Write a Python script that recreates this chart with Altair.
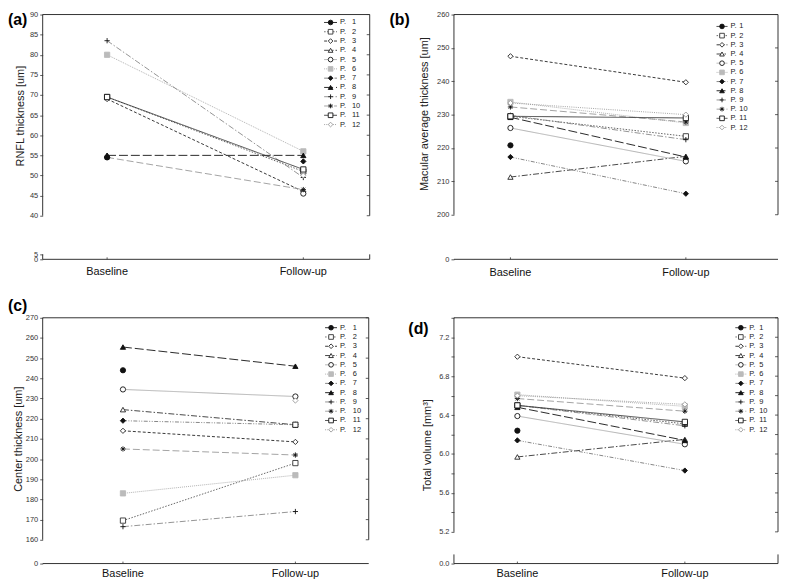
import json
import altair as alt
import pandas as pd

# ---------------- data ----------------
PATIENTS = ["1", "2", "3", "4", "5", "6", "7", "8", "9", "10", "11", "12"]
X_LABELS = ["Baseline", "Follow-up"]
TIME_CODES = [0, 1]

RNFL_BASE = [54.5, 69.5, 69.0, 55.0, None, 80.0, None, 55.0, 83.5, 54.5, 69.5, None]
RNFL_FU = [None, 51.0, 46.0, None, 45.5, 56.0, 53.5, 55.0, 49.5, 46.5, 51.5, 50.0]

MAC_BASE = [220.8, 229.5, 247.5, 211.3, 226.0, 233.8, 217.3, 229.2, 229.8, 232.3, 229.5, 233.5]
MAC_FU = [None, 223.5, 239.7, 217.5, 216.0, 227.5, 206.3, 217.3, 222.5, 227.8, 229.0, 230.0]

CEN_BASE = [244.0, 169.5, 214.0, 224.5, 234.5, 183.0, 219.0, 255.5, 166.5, 205.0, None, None]
CEN_FU = [None, 198.0, 208.5, 217.0, 231.0, 192.0, 217.0, 246.0, 174.0, 202.0, 217.0, 229.0]

VOL_BASE = [6.24, 6.50, 7.00, 5.97, 6.39, 6.61, 6.14, 6.48, 6.50, 6.57, 6.50, 6.60]
VOL_FU = [None, 6.31, 6.78, 6.15, 6.10, 6.49, 5.83, 6.14, 6.29, 6.44, 6.33, 6.51]

RNFL_TICKS = [0, 5, 40, 45, 50, 55, 60, 65, 70, 75, 80, 85, 90]
MAC_TICKS = [0, 200, 210, 220, 230, 240, 250, 260]
CEN_TICKS = [0, 160, 170, 180, 190, 200, 210, 220, 230, 240, 250, 260, 270]
VOL_TICKS = [0.0, 5.2, 5.4, 5.6, 5.8, 6.0, 6.2, 6.4, 6.6, 6.8, 7.0, 7.2, 7.4]
VOL_LABELS = [0.0, 5.2, 5.6, 6.0, 6.4, 6.8, 7.2]

# ---------------- styles ----------------
FONT = "Liberation Sans"
FRAME = "#333333"
LINE_COLORS = ["#111111", "#555555", "#222222", "#333333", "#aaaaaa", "#aaaaaa",
               "#777777", "#111111", "#888888", "#999999", "#333333", "#999999"]
DASHES = [[1, 0], [1.5, 1.5], [3, 2], [6, 2, 1.5, 2], [1, 0], [1, 1],
          [4, 1.5, 1, 1.5, 1, 1.5], [9, 3], [6, 2, 1.5, 2], [7, 3], [1, 0], [1, 1.2]]
PLUS = "M-1,0L1,0M0,-1L0,1"
STAR = "M-1,0L1,0M0,-1L0,1M-0.7,-0.7L0.7,0.7M-0.7,0.7L0.7,-0.7"
SHAPES = ["circle", "square", "diamond", "triangle-up", "circle", "square",
          "diamond", "triangle-up", PLUS, STAR, "square", "diamond"]
FILLS = ["#111111", "#ffffff", "#ffffff", "#ffffff", "#ffffff", "#bbbbbb",
         "#111111", "#111111", "#111111", "#111111", "#ffffff", "#ffffff"]
MSTROKES = ["#111111", "#333333", "#222222", "#222222", "#111111", "#bbbbbb",
            "#111111", "#111111", "#111111", "#111111", "#111111", "#999999"]


def long_df(base, fu):
    rows = []
    for p, b, f in zip(PATIENTS, base, fu):
        if b is not None:
            rows.append({"pid": p, "t": TIME_CODES[0], "v": b})
        if f is not None:
            rows.append({"pid": p, "t": TIME_CODES[1], "v": f})
    return pd.DataFrame(rows)


def both_df(base, fu):
    rows = []
    for p, b, f in zip(PATIENTS, base, fu):
        if b is not None and f is not None:
            rows.append({"pid": p, "t": TIME_CODES[0], "v": b})
            rows.append({"pid": p, "t": TIME_CODES[1], "v": f})
    return pd.DataFrame(rows)


def panel(c):
    W, WD, H = c["w"], c["wd"], c["h"]

    def ysc():
        return alt.Scale(domain=c["ydom"], range=c["yrng"], nice=False, zero=False)

    xsc = alt.Scale(domain=TIME_CODES, range=c["xrng"], nice=False, zero=False)

    pts = long_df(c["base"], c["fu"])
    lines = both_df(c["base"], c["fu"])
    seg_df = pd.DataFrame(c["segs"], columns=["lo", "hi"])
    edge_df = pd.DataFrame({"v": [c["ydom"][0], c["ydom"][-1]]})
    main_ticks = [v for v in c["ticks"] if v >= c["ymain"]]
    xlab_df = pd.DataFrame({"t": TIME_CODES, "lab": X_LABELS})

    label_vals = c.get("labels", c["ticks"])
    ylabel_expr = (f"indexof({json.dumps(label_vals)}, round(datum.value*10)/10) >= 0 "
                   f"? format(datum.value, '{c['fmt']}') : ''")

    stroke_enc = alt.Stroke("pid:N", scale=alt.Scale(domain=PATIENTS, range=LINE_COLORS), legend=None)
    dash_enc = alt.StrokeDash("pid:N", scale=alt.Scale(domain=PATIENTS, range=DASHES), legend=None)
    shape_enc = alt.Shape("pid:N", scale=alt.Scale(domain=PATIENTS, range=SHAPES), legend=None)
    fill_enc = alt.Fill("pid:N", scale=alt.Scale(domain=PATIENTS, range=FILLS), legend=None)
    mstroke_enc = alt.Stroke("pid:N", scale=alt.Scale(domain=PATIENTS, range=MSTROKES), legend=None)

    left = alt.Chart(seg_df).mark_rule(color=FRAME, strokeWidth=1).encode(
        x=alt.value(0), y=alt.Y("lo:Q", scale=ysc(), axis=None), y2="hi:Q")
    right = alt.Chart(seg_df).mark_rule(color=FRAME, strokeWidth=1).encode(
        x=alt.value(WD), y=alt.Y("lo:Q", scale=ysc(), axis=None), y2="hi:Q")
    hedges = alt.Chart(edge_df).mark_rule(color=FRAME, strokeWidth=1).encode(
        x=alt.value(0), x2=alt.value(WD), y=alt.Y("v:Q", scale=ysc(), axis=None))
    rticks = alt.Chart(pd.DataFrame({"v": main_ticks})).mark_rule(color=FRAME, strokeWidth=0.8).encode(
        x=alt.value(WD - 3), x2=alt.value(WD), y=alt.Y("v:Q", scale=ysc(), axis=None))

    xticks = alt.Chart(xlab_df).mark_rule(color=FRAME, strokeWidth=0.8).encode(
        x=alt.X("t:Q", scale=xsc, axis=None), y=alt.value(H - 2), y2=alt.value(H))
    xlabs = alt.Chart(xlab_df).mark_text(align="center", baseline="top", fontSize=11, font=FONT,
                                         color="#111111").encode(
        x=alt.X("t:Q", scale=xsc, axis=None), y=alt.value(H + c["xpad"]), text="lab:N")

    line = alt.Chart(lines).mark_line(strokeWidth=0.9).encode(
        x=alt.X("t:Q", scale=xsc, axis=None),
        y=alt.Y("v:Q", scale=ysc(), axis=alt.Axis(
            values=c["ticks"], labelExpr=ylabel_expr, title=c["ytitle"], grid=False,
            domain=False, ticks=True, tickSize=3, tickColor=FRAME, tickWidth=0.8,
            labelOverlap=False, labelFontSize=7.5, labelColor="#333333", labelPadding=2,
            labelFont=FONT, titleFont=FONT, titleFontSize=11, titleFontWeight="normal",
            titleColor="#222222", titlePadding=c["tpad"], titleY=c["ty_title"])),
        stroke=stroke_enc, strokeDash=dash_enc, detail="pid:N")

    pt = alt.Chart(pts).mark_point(filled=True, opacity=1, strokeWidth=0.9, size=28).encode(
        x=alt.X("t:Q", scale=xsc, axis=None), y=alt.Y("v:Q", scale=ysc(), axis=None),
        shape=shape_enc, fill=fill_enc, stroke=mstroke_enc)

    leg = pd.DataFrame({"pid": PATIENTS, "prefix": ["P."] * len(PATIENTS), "num": PATIENTS})

    def ly():
        return alt.Y("pid:N", scale=alt.Scale(type="point", domain=PATIENTS, range=c["legy"], padding=0),
                     axis=None)

    lrule = alt.Chart(leg).mark_rule(strokeWidth=0.9).encode(
        x=alt.value(c["lx0"]), x2=alt.value(c["lx1"]), y=ly(), stroke=stroke_enc, strokeDash=dash_enc)
    lpt = alt.Chart(leg).mark_point(filled=True, opacity=1, strokeWidth=0.9, size=22).encode(
        x=alt.value(c["lsx"]), y=ly(), shape=shape_enc, fill=fill_enc, stroke=mstroke_enc)
    ltxt = alt.Chart(leg).mark_text(align="left", baseline="middle", fontSize=7.5, font=FONT,
                                    color="#222222").encode(
        x=alt.value(c["ltx"]), y=ly(), text="prefix:N")
    lnum = alt.Chart(leg).mark_text(align="left", baseline="middle", fontSize=7.5, font=FONT,
                                    color="#222222").encode(
        x=alt.value(c["lnx"]), y=ly(), text="num:N")

    tag = alt.Chart(pd.DataFrame({"label": [c["tag"]]})).mark_text(
        align="left", baseline="top", fontSize=16, fontWeight="bold", font=FONT, color="#000000").encode(
        x=alt.value(c["tx"]), y=alt.value(c["ty"]), text="label:N")

    return alt.layer(left, right, hedges, rticks, xticks, xlabs, line, pt, lrule, lpt, ltxt, lnum,
                     tag).resolve_scale(
        y="independent", stroke="independent", strokeDash="independent",
        shape="independent", fill="independent").properties(width=W, height=H)


CFG = [
    dict(tag="(a)", ytitle="RNFL thickness [um]", base=RNFL_BASE, fu=RNFL_FU, ticks=RNFL_TICKS, fmt="d",
         ydom=[0, 5, 40, 90], yrng=[247, 242, 203, 0], ymain=40, segs=[(40, 90), (0, 5)],
         w=348, wd=330, h=247, xrng=[65, 263], xpad=7, tpad=4, ty_title=102,
         legy=[8, 111], lx0=284, lx1=297, lsx=290.5, ltx=300, lnx=312, tx=-35, ty=-2),
    dict(tag="(b)", ytitle="Macular average thickness [um]", base=MAC_BASE, fu=MAC_FU, ticks=MAC_TICKS,
         fmt="d", ydom=[0, 200, 260], yrng=[247, 202, 0], ymain=200, segs=[(200, 260)],
         w=327, wd=327, h=247, xrng=[57, 234], xpad=8, tpad=7.5, ty_title=100,
         legy=[12, 114], lx0=265, lx1=276, lsx=270.5, ltx=279, lnx=288, tx=-65, ty=-2),
    dict(tag="(c)", ytitle="Center thickness [um]", base=CEN_BASE, fu=CEN_FU, ticks=CEN_TICKS, fmt="d",
         ydom=[0, 160, 270], yrng=[248, 224, 0], ymain=160, segs=[(160, 270)],
         w=329, wd=329, h=248, xrng=[81, 255], xpad=5, tpad=1.5, ty_title=122,
         legy=[10, 113], lx0=285, lx1=297, lsx=291, ltx=300, lnx=313, tx=-35, ty=-20),
    dict(tag="(d)", ytitle="Total volume [mm³]", base=VOL_BASE, fu=VOL_FU, ticks=VOL_TICKS, labels=VOL_LABELS,
         fmt=".1f", ydom=[0, 5.2, 7.4], yrng=[248, 216, 0], ymain=5.2, segs=[(5.2, 7.4), (0, 1.5)],
         w=327, wd=327, h=248, xrng=[64, 233], xpad=5, tpad=6.6, ty_title=128,
         legy=[10, 113], lx0=284, lx1=295, lsx=289.5, ltx=298, lnx=308, tx=-46, ty=3),
]

panels = [panel(c) for c in CFG]

chart = alt.concat(
    *panels, columns=2, spacing={"row": 59, "column": 67}, bounds="flush", align="none"
).properties(padding=0, background="#ffffff").configure_view(stroke=None).configure_axis(
    labelFont=FONT, titleFont=FONT).configure_text(font=FONT)

chart.save("out.html", embed_options={"renderer": "svg", "actions": False})
